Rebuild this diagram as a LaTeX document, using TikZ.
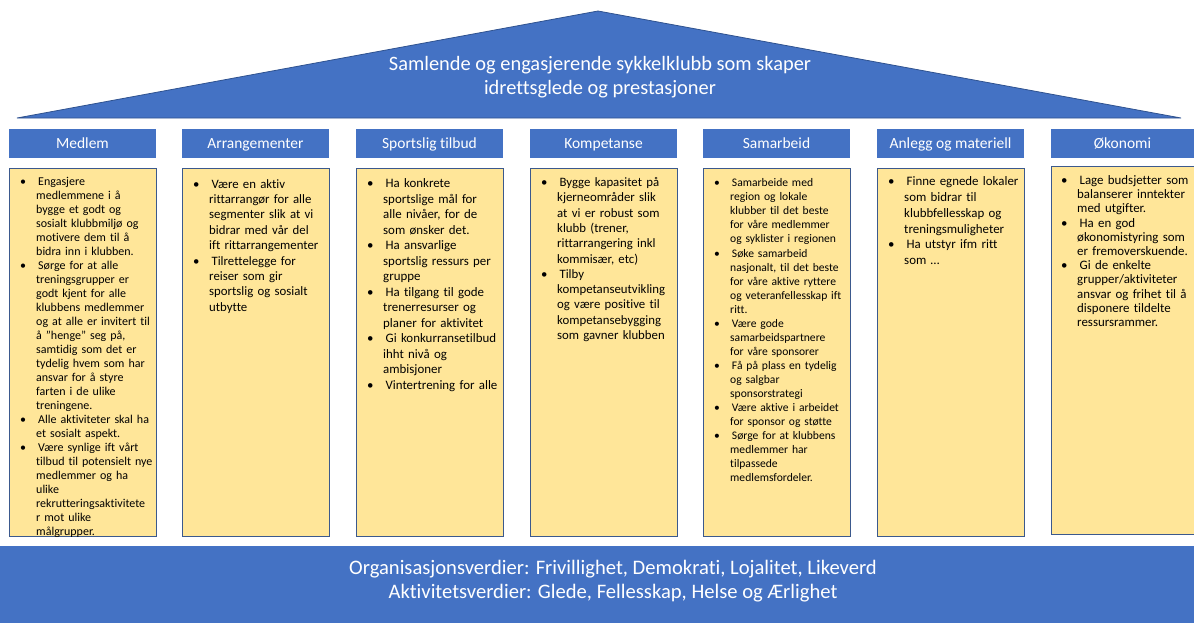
\documentclass[tikz,border=0pt]{standalone}
\usepackage{fontspec}
\setmainfont{Carlito}[Ligatures={NoCommon}]
\usepackage{enumitem}
\setlist[itemize]{label=\textbullet, leftmargin=18pt, labelwidth=4pt, labelsep=12pt, align=left,
  itemsep=0pt, parsep=0pt, topsep=0pt, partopsep=0pt}
\usetikzlibrary{positioning}

\definecolor{pillarBlue}{HTML}{4472C4}
\definecolor{edgeBlue}{HTML}{2F528F}
\definecolor{noteYellow}{HTML}{FFE699}

\begin{document}
\begin{tikzpicture}[x=1pt,y=-1pt]
	\useasboundingbox (0,0) rectangle (1194,622);
	\clip (0,0) rectangle (1194,622);
	\begin{scope}
		[
			styleRoof/.style={fill=pillarBlue, draw=edgeBlue, line width=0.8pt},
			styleHead/.style={fill=pillarBlue, text=white, minimum width=147pt, minimum height=29pt,
				inner sep=0pt, text height=12.5pt, text depth=2.5pt, font=\fontsize{15.5}{18}\selectfont},
			styleBody/.style={fill=noteYellow, draw=edgeBlue!85!gray, line width=0.8pt,
				minimum width=147pt, minimum height=368pt, inner sep=0pt},
			styleList/.style={anchor=north west, inner sep=0pt, text width=136pt, align=left, font=#1},
			styleBase/.style={fill=pillarBlue, minimum width=1194pt, minimum height=77pt, inner sep=0pt},
			styleBig/.style={text=white, align=center, inner sep=0pt, font=\fontsize{20.4}{24.5}\selectfont},
		]
		\coordinate(roofL) at (17,118);
		\coordinate(roofT) at (598,11);
		\coordinate(roofR) at (1181,118);
		\draw[styleRoof] (roofL) -- (roofT) -- (roofR) -- cycle;
		\node(goal)[styleBig] at (600,77) {Samlende og engasjerende sykkelklubb som skaper\\idrettsglede og prestasjoner};

		\node(hMedlem)[styleHead] at (82.5,143.5) {Medlem};
		\node(hArr)[styleHead] at (255.5,143.5) {Arrangementer};
		\node(hSport)[styleHead] at (429.5,143.5) {Sportslig tilbud};
		\node(hKomp)[styleHead] at (603.5,143.5) {Kompetanse};
		\node(hSam)[styleHead] at (776.5,143.5) {Samarbeid};
		\node(hAnlegg)[styleHead] at (950.5,143.5) {Anlegg og materiell};
		\node(hOkon)[styleHead, minimum width=143pt] at (1122.5,143.5) {Økonomi};

		\node(bMedlem)[styleBody] at (82.5,352) {};
		\node(bArr)[styleBody] at (255.5,352) {};
		\node(bSport)[styleBody] at (429.5,352) {};
		\node(bKomp)[styleBody] at (603.5,352) {};
		\node(bSam)[styleBody] at (776.5,352) {};
		\node(bAnlegg)[styleBody] at (950.5,352) {};
		\node(bOkon)[styleBody, minimum width=143pt] at (1122.5,350) {};

		\node(tMedlem)[styleList={\fontsize{12}{14}\selectfont}] at (18,171.5) {%
			\begin{itemize}
				\item\strut Engasjere\\ medlemmene i å\\ bygge et godt og\\ sosialt klubbmiljø og\\ motivere dem til å\\ bidra inn i klubben.
				\item Sørge for at alle\\ treningsgrupper er\\ godt kjent for alle\\ klubbens medlemmer\\ og at alle er invitert til\\ å "henge" seg på,\\ samtidig som det er\\ tydelig hvem som har\\ ansvar for å styre\\ farten i de ulike\\ treningene.
				\item Alle aktiviteter skal ha\\ et sosialt aspekt.
				\item Være synlige ift vårt\\ tilbud til potensielt nye\\ medlemmer og ha\\ ulike\\ rekrutteringsaktivitete\\ r mot ulike\\ målgrupper.
			\end{itemize}};
		\node(tArr)[styleList={\fontsize{12.8}{15.4}\selectfont}] at (191,172.5) {%
			\begin{itemize}
				\item\strut Være en aktiv\\ rittarrangør for alle\\ segmenter slik at vi\\ bidrar med vår del\\ ift rittarrangementer
				\item Tilrettelegge for\\ reiser som gir\\ sportslig og sosialt\\ utbytte
			\end{itemize}};
		\node(tSport)[styleList={\fontsize{12.9}{15.5}\selectfont}] at (365,172) {%
			\begin{itemize}
				\item\strut Ha konkrete\\ sportslige mål for\\ alle nivåer, for de\\ som ønsker det.
				\item Ha ansvarlige\\ sportslig ressurs per\\ gruppe
				\item Ha tilgang til gode\\ trenerresurser og\\ planer for aktivitet
				\item Gi konkurransetilbud\\ ihht nivå og\\ ambisjoner
				\item Vintertrening for alle
			\end{itemize}};
		\node(tKomp)[styleList={\fontsize{12.8}{15.3}\selectfont}] at (539,171) {%
			\begin{itemize}
				\item\strut Bygge kapasitet på\\ kjerneområder slik\\ at vi er robust som\\ klubb (trener,\\ rittarrangering inkl\\ kommisær, etc)
				\item Tilby\\ kompetanseutvikling\\ og være positive til\\ kompetansebygging\\ som gavner klubben
			\end{itemize}};
		\node(tSam)[styleList={\fontsize{11.6}{14.05}\selectfont}] at (712,172.5) {%
			\begin{itemize}
				\item\strut Samarbeide med\\ region og lokale\\ klubber til det beste\\ for våre medlemmer\\ og syklister i regionen
				\item Søke samarbeid\\ nasjonalt, til det beste\\ for våre aktive ryttere\\ og veteranfellesskap ift\\ ritt.
				\item Være gode\\ samarbeidspartnere\\ for våre sponsorer
				\item Få på plass en tydelig\\ og salgbar\\ sponsorstrategi
				\item Være aktive i arbeidet\\ for sponsor og støtte
				\item Sørge for at klubbens\\ medlemmer har\\ tilpassede\\ medlemsfordeler.
			\end{itemize}};
		\node(tAnlegg)[styleList={\fontsize{12.9}{15.7}\selectfont}] at (886,170) {%
			\begin{itemize}
				\item\strut Finne egnede lokaler\\ som bidrar til\\ klubbfellesskap og\\ treningsmuligheter
				\item Ha utstyr ifm ritt\\ som \dots
			\end{itemize}};
		\node(tOkon)[styleList={\fontsize{12.9}{14.2}\selectfont}] at (1059,170) {%
			\begin{itemize}
				\item\strut Lage budsjetter som\\ balanserer inntekter\\ med utgifter.
				\item Ha en god\\ økonomistyring som\\ er fremoverskuende.
				\item Gi de enkelte\\ grupper/aktiviteter\\ ansvar og frihet til å\\ disponere tildelte\\ ressursrammer.
			\end{itemize}};

		\node(values)[styleBase] at (597,584) {};
		\node(valueText)[styleBig, font=\fontsize{20.6}{24}\selectfont] at (613,581) {Organisasjonsverdier: Frivillighet, Demokrati, Lojalitet, Likeverd\\Aktivitetsverdier: Glede, Fellesskap, Helse og Ærlighet};
	\end{scope}
\end{tikzpicture}
\end{document}
